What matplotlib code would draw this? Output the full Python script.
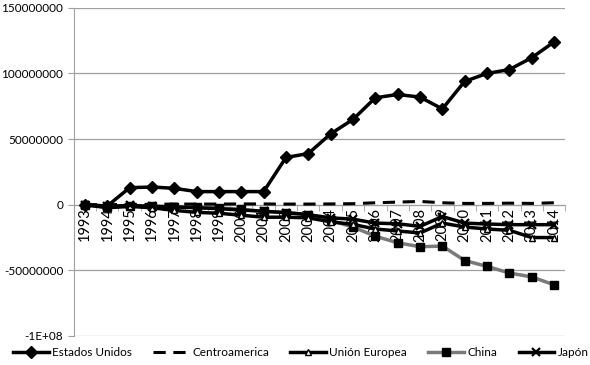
import matplotlib
matplotlib.use("Agg")
import matplotlib.pyplot as plt
from matplotlib.ticker import FixedLocator, FuncFormatter

# Trade balance by partner, 1993-2014
years = [str(y) for y in range(1993, 2015)]

estados_unidos = [0, -1e6, 13e6, 13.5e6, 12.5e6, 10e6, 10e6, 10e6, 10e6, 36e6, 39e6,
                  54e6, 65e6, 81.5e6, 84e6, 82e6, 73e6, 94e6, 100e6, 103e6, 112e6, 124e6]
centroamerica = [0, 0, 0.3e6, 0.3e6, 0.5e6, 0.5e6, 0.5e6, 0.6e6, 0.6e6, 0.5e6, 0.5e6,
                 0.6e6, 0.8e6, 1.5e6, 2e6, 2.5e6, 1.5e6, 1e6, 1e6, 1.2e6, 1e6, 1.5e6]
union_europea = [0, -2.3e6, -1.3e6, -2.3e6, -4.3e6, -5.8e6, -6.5e6, -8e6, -9.5e6, -9.5e6, -10e6,
                 -13e6, -15e6, -18.5e6, -20e6, -21.5e6, -14e6, -17e6, -18.5e6, -19.5e6, -25e6, -25e6]
china = [-0.5e6, -1.5e6, -1e6, -1e6, -1.5e6, -2e6, -2.5e6, -3.5e6, -5e6, -6e6, -7.5e6,
         -12e6, -17e6, -24e6, -29e6, -32e6, -31.5e6, -42.5e6, -47e6, -52e6, -55e6, -61e6]
japon = [0, -1.3e6, -0.5e6, -1.3e6, -1.7e6, -2.3e6, -3e6, -4e6, -5e6, -6e6, -7.6e6,
         -10e6, -11e6, -14e6, -14.5e6, -16.5e6, -9e6, -14e6, -14.7e6, -15.2e6, -15.2e6, -15.2e6]

plt.rcParams["font.family"] = ["Lato", "DejaVu Sans"]

fig = plt.figure(figsize=(5.9, 3.65), dpi=100)
ax = fig.add_axes([0.125, 0.0795, 0.833, 0.899])

x = list(range(len(years)))
ax.plot(x, estados_unidos, color="black", lw=2.5, marker="D", ms=6.5, label="Estados Unidos", zorder=6)
ax.plot(x, centroamerica, color="black", lw=2.2, ls=(0, (4, 2.5)), label="Centroamerica", zorder=5)
ax.plot(x, union_europea, color="black", lw=2.5, marker="^", ms=5, mfc="white", mec="black",
        label="Unión Europea", zorder=4)
ax.plot(x, china, color="#7a7a7a", lw=2.5, marker="s", ms=6, mfc="black", mec="black",
        label="China", zorder=3)
ax.plot(x, japon, color="black", lw=2.5, marker="x", ms=5.5, mew=1.6, label="Japón", zorder=4)

ax.set_xlim(-0.5, len(years) - 0.5)
ax.set_ylim(-100e6, 150e6)
ax.set_yticks([-100e6, -50e6, 0, 50e6, 100e6, 150e6])
ax.yaxis.set_major_formatter(FuncFormatter(
    lambda v, p: "-1E+08" if v <= -100e6 else f"{int(v)}"))
ax.grid(axis="y", color="#a0a0a0", lw=0.9)
ax.set_axisbelow(True)

ax.spines["top"].set_visible(False)
ax.spines["right"].set_visible(False)
ax.spines["left"].set_color("#a0a0a0")
ax.spines["bottom"].set_position(("data", 0))
ax.spines["bottom"].set_color("#a0a0a0")

ax.set_xticks(x)
ax.set_xticklabels(years, rotation=90, fontsize=10.5)
ax.xaxis.set_minor_locator(FixedLocator([i + 0.5 for i in x]))
ax.tick_params(axis="x", which="major", length=0, pad=2)
ax.tick_params(axis="x", which="minor", length=4, color="#a0a0a0")
ax.tick_params(axis="y", length=4, color="#a0a0a0", labelsize=8.5)

fig.legend(loc="center", bbox_to_anchor=(0.51, 0.035), ncol=5, frameon=False,
           fontsize=8.5, handlelength=3, columnspacing=1.8, handletextpad=0.3)

fig.savefig("out.png", dpi=100)
